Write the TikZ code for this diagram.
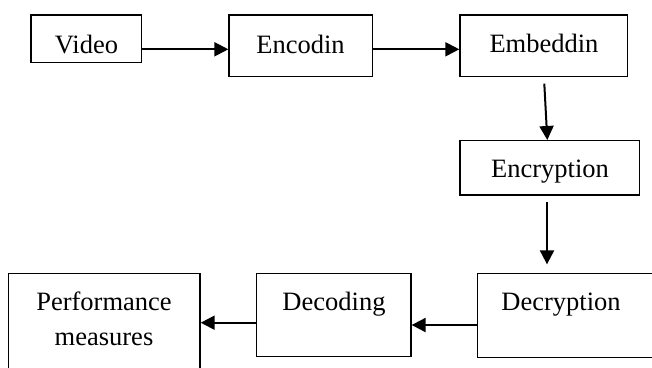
\documentclass[tikz,border=0pt]{standalone}
\usepackage{fontspec}
\setmainfont{Liberation Serif}
\usetikzlibrary{arrows.meta,calc}
\begin{document}
\begin{tikzpicture}[x=1pt,y=-1pt,
  box/.style={draw=black,line width=1.3pt,rectangle,inner sep=0pt},
  txt/.style={inner sep=0pt,anchor=base,font=\fontsize{26.5}{35}\selectfont,align=center},
  arr/.style={line width=2pt,-{Triangle[length=14pt,width=14pt]}}]
\useasboundingbox (0,0) rectangle (652,367);
% boxes
\node[box,minimum width=110.5pt,minimum height=47.5pt] (video) at (86.25,38.75) {};
\node[box,minimum width=143.5pt,minimum height=61.5pt] (encodin) at (300.75,45.75) {};
\node[box,minimum width=167.7pt,minimum height=61.3pt] (embeddin) at (543.8,45.7) {};
\node[box,minimum width=179.3pt,minimum height=54.3pt] (encryption) at (549.7,167.8) {};
\node[box,minimum width=192.7pt,minimum height=84pt] (decryption) at (573.6,315.3) {};
\node[box,minimum width=154.3pt,minimum height=83.5pt] (decoding) at (333.85,315.05) {};
\node[box,minimum width=191.7pt,minimum height=106.7pt] (perf) at (104.2,326.65) {};
% labels (base anchor: baseline of the last line)
\node[txt] (tvideo) at (86.5,53) {Video};
\node[txt] (tencodin) at (300.5,53) {Encodin};
\node[txt] (tembeddin) at (544,52) {Embeddin};
\node[txt] (tencryption) at (550,177) {Encryption};
\node[txt] (tdecryption) at (561,310) {Decryption};
\node[txt] (tdecoding) at (334,310) {Decoding};
\node[txt] (tperf) at (104,345) {Performance\\measures};
% connectors
\draw[arr] (video.east |- 0,49.3) -- (encodin.west |- 0,49.3);
\draw[arr] (encodin.east |- 0,49.3) -- (embeddin.west |- 0,49.3);
\draw[arr] ([shift={(0.5,6.7)}]embeddin.south) -- ([xshift=-2.4pt]encryption.north);
\coordinate (encA) at ([shift={(-2.7,6.7)}]encryption.south);
\draw[arr] (encA) -- ($(encA |- decryption.north)+(0,-8.3)$);
\draw[arr] (decryption.west |- 0,325) -- (decoding.east |- 0,325);
\draw[arr] (decoding.west |- 0,322.7) -- (perf.east |- 0,322.7);
\end{tikzpicture}
\end{document}
